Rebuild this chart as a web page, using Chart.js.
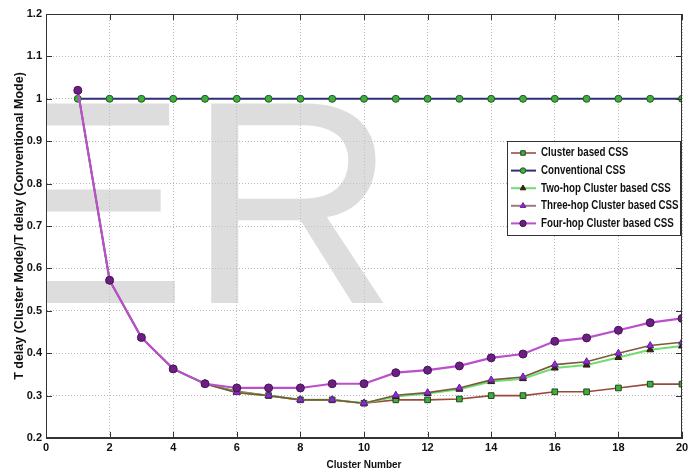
<!DOCTYPE html>
<html><head><meta charset="utf-8">
<script src="https://cdn.jsdelivr.net/npm/chart.js@4/dist/chart.umd.min.js"></script>
<style>html,body{margin:0;padding:0;background:#fff}#wrap{width:699px;height:474px}</style>
</head><body><div id="wrap"><canvas id="c" width="699" height="474"></canvas></div>
<script>
const clusterNumbers = [1,2,3,4,5,6,7,8,9,10,11,12,13,14,15,16,17,18,19,20];
const clusterCSS   = [1.02,0.572,0.437,0.363,0.328,0.310,0.300,0.290,0.290,0.282,0.290,0.290,0.292,0.300,0.300,0.309,0.309,0.318,0.327,0.327];
const conventional = [1,1,1,1,1,1,1,1,1,1,1,1,1,1,1,1,1,1,1,1];
const twoHop       = [1.02,0.572,0.437,0.363,0.328,0.308,0.300,0.290,0.290,0.282,0.298,0.305,0.315,0.333,0.340,0.365,0.372,0.390,0.408,0.417];
const threeHop     = [1.02,0.572,0.437,0.363,0.328,0.307,0.300,0.290,0.290,0.282,0.301,0.307,0.318,0.337,0.344,0.373,0.380,0.400,0.418,0.426];
const fourHop      = [1.02,0.572,0.437,0.363,0.328,0.318,0.318,0.318,0.328,0.328,0.354,0.360,0.370,0.389,0.398,0.428,0.436,0.454,0.472,0.482];
const seriesLabels = ['Cluster based CSS','Conventional CSS','Two-hop Cluster based CSS','Three-hop Cluster based CSS','Four-hop Cluster based CSS'];
const xTitle = 'Cluster Number';
const yTitle = 'T delay (Cluster Mode)/T delay (Conventional Mode)';

const FONT = "'Liberation Sans',Arial,sans-serif";
const pts = arr => arr.map((v,i)=>({x:clusterNumbers[i], y:v}));

const watermark = {
  id:'watermark',
  beforeDatasetsDraw(chart){
    const {ctx, chartArea:a} = chart;
    ctx.save();
    ctx.beginPath(); ctx.rect(a.left, a.top, a.right-a.left, a.bottom-a.top); ctx.clip();
    ctx.fillStyle = 'rgba(200,200,200,0.62)';
    ctx.font = "290px 'Liberation Sans', Arial, sans-serif";
    ctx.textBaseline = 'alphabetic';
    ctx.fillText('ER', -6, 303);
    ctx.restore();
  }
};

const frame = {
  id:'frame',
  afterDatasetsDraw(chart){
    const {ctx, chartArea:a, scales:{x,y}} = chart;
    ctx.save();
    ctx.strokeStyle = '#333'; ctx.lineWidth = 1;
    ctx.strokeRect(a.left+0.5, a.top+0.5, a.right-a.left-1, a.bottom-a.top-1);
    ctx.beginPath();
    x.ticks.forEach(t=>{ const px = Math.round(x.getPixelForValue(t.value))+0.5;
      ctx.moveTo(px, a.bottom); ctx.lineTo(px, a.bottom-6);
      ctx.moveTo(px, a.top); ctx.lineTo(px, a.top+6); });
    y.ticks.forEach(t=>{ const py = Math.round(y.getPixelForValue(t.value))+0.5;
      ctx.moveTo(a.left, py); ctx.lineTo(a.left+6, py);
      ctx.moveTo(a.right, py); ctx.lineTo(a.right-6, py); });
    ctx.stroke();
    ctx.restore();
  },
  afterDraw(chart){
    const {ctx} = chart;
    const bx = 507, by = 141, bw = 173, bh = 94, step = 17.6;
    ctx.save();
    ctx.fillStyle = '#fff'; ctx.fillRect(bx, by, bw, bh);
    ctx.strokeStyle = '#333'; ctx.lineWidth = 1; ctx.strokeRect(bx+0.5, by+0.5, bw, bh);
    chart.data.datasets.forEach((ds,i)=>{
      const yy = by + 12 + i*step;
      ctx.strokeStyle = ds.legendLine || ds.borderColor; ctx.lineWidth = 2;
      ctx.beginPath(); ctx.moveTo(bx+4, yy); ctx.lineTo(bx+29, yy); ctx.stroke();
      ctx.fillStyle = ds.pointBackgroundColor; ctx.strokeStyle = ds.pointBorderColor; ctx.lineWidth = 1;
      Chart.helpers.drawPoint(ctx, {pointStyle: ds.pointStyle, radius: ds.pointRadius*0.8, borderWidth: 1, rotation:0}, bx+16, yy);
      ctx.save();
      ctx.translate(bx+34, yy);
      ctx.scale(0.78, 1);
      ctx.font = "bold 12.5px " + FONT; ctx.textBaseline = 'middle'; ctx.fillStyle = '#111';
      ctx.fillText(ds.label, 0, 0);
      ctx.restore();
    });
    ctx.restore();
  }
};

new Chart(document.getElementById('c'), {
  type:'line',
  data:{datasets:[
    {label:seriesLabels[0], data:pts(clusterCSS), borderColor:'#9a4a3a', legendLine:'#b07070', borderWidth:1.6,
     pointStyle:'rect', pointRadius:4, pointBackgroundColor:'#3fae3f', pointBorderColor:'#1f4a1f', pointBorderWidth:1, order:4},
    {label:seriesLabels[1], data:pts(conventional), borderColor:'#2e2e7a', borderWidth:2,
     pointStyle:'circle', pointRadius:3.5, pointBackgroundColor:'#3fae3f', pointBorderColor:'#1f5a1f', pointBorderWidth:1, order:5},
    {label:seriesLabels[2], data:pts(twoHop), borderColor:'#70dd70', borderWidth:2,
     pointStyle:'triangle', pointRadius:4, pointBackgroundColor:'#3a2418', pointBorderColor:'#2a1a10', pointBorderWidth:1, order:3},
    {label:seriesLabels[3], data:pts(threeHop), borderColor:'#7a5a3a', legendLine:'#a07a7a', borderWidth:1.6,
     pointStyle:'triangle', pointRadius:4, pointBackgroundColor:'#8a2ed0', pointBorderColor:'#6a1aa0', pointBorderWidth:1, order:2},
    {label:seriesLabels[4], data:pts(fourHop), borderColor:'#bb4fcc', borderWidth:2.2,
     pointStyle:'circle', pointRadius:4, pointBackgroundColor:'#6a207e', pointBorderColor:'#4a1060', pointBorderWidth:1, order:1}
  ]},
  options:{
    responsive:false, animation:false, devicePixelRatio:1,
    layout:{padding:{left:0, top:14, right:17, bottom:0}},
    plugins:{legend:{display:false}, tooltip:{enabled:false}},
    elements:{line:{tension:0}},
    scales:{
      x:{type:'linear', min:0, max:20,
         ticks:{stepSize:2, maxRotation:0, autoSkip:false, padding:3, color:'#111', font:{family:FONT, size:11, weight:'bold'}},
         grid:{color:'#b8b8b8', drawTicks:false, lineWidth:1},
         border:{display:true, color:'#333', dash:[1,2]},
         title:{display:true, text:xTitle, color:'#111', font:{family:FONT, size:10, weight:'bold'}, padding:{top:0,bottom:3}},
         afterFit(s){ s.height = 36; }},
      y:{type:'linear', min:0.2, max:1.2,
         ticks:{stepSize:0.1, padding:4, color:'#111', font:{family:FONT, size:11, weight:'bold'},
                callback:v=>String(Math.round(v*10)/10)},
         grid:{color:'#b8b8b8', drawTicks:false, lineWidth:1},
         border:{display:true, color:'#333', dash:[1,2]},
         title:{display:true, text:yTitle, color:'#111', font:{family:FONT, size:12.5, weight:'bold'}, padding:{top:12,bottom:0}},
         afterFit(s){ s.width = 46; }}
    }
  },
  plugins:[watermark, frame]
});
</script></body></html>
